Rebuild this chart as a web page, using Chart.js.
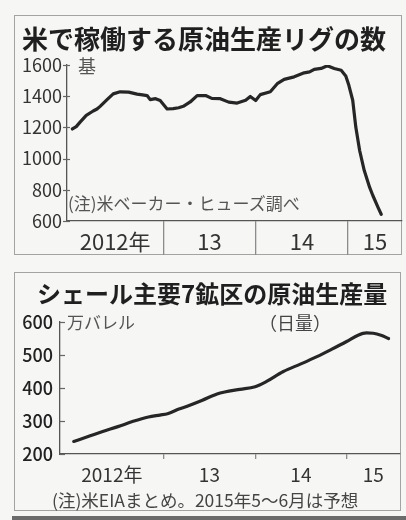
<!DOCTYPE html>
<html lang="ja">
<head>
<meta charset="UTF-8">
<title>米で稼働する原油生産リグの数</title>
<script src="https://cdn.jsdelivr.net/npm/chart.js"></script>
<style>
  html, body { margin: 0; padding: 0; }
  body {
    width: 406px; height: 520px; position: relative; overflow: hidden;
    background: #f6f6f4; color: #333;
    font-family: 'Noto Sans CJK JP', sans-serif;
  }
  .frame { position: absolute; box-sizing: border-box; border: 1.5px solid #a3a3a3; }
  .txt { position: absolute; white-space: nowrap; line-height: 1; }
  .title { font-weight: 700; color: #1f1f1f; }
  canvas { position: absolute; left: 0; }
  .rule { position: absolute; left: 12px; top: 516px; width: 394px; height: 4px; background: #6b6b6b; }
</style>
</head>
<body>
<div class="frame" style="left:14px;top:15px;width:388px;height:240px"></div>
<div class="frame" style="left:14px;top:272px;width:387px;height:239px"></div>
<div class="rule"></div>

<canvas id="rigChart" width="406" height="260" style="top:0"></canvas>
<canvas id="shaleChart" width="406" height="260" style="top:260px"></canvas>

<div class="txt title" style="left:22px;top:25px;font-size:26px">米で稼働する原油生産リグの数</div>
<div class="txt" style="left:78px;top:56px;font-size:18px;color:#555">基</div>
<div class="txt" style="left:68px;top:194px;font-size:17px;color:#555">(注)米ベーカー・ヒューズ調べ</div>

<div class="txt title" style="left:37px;top:281px;font-size:24px">シェール主要7鉱区の原油生産量</div>
<div class="txt" style="left:67px;top:313px;font-size:17px;color:#555">万バレル</div>
<div class="txt" style="left:259px;top:313px;font-size:18px;color:#444">（日量）</div>
<div class="txt" style="left:52px;top:491px;font-size:17.5px;color:#444">(注)米EIAまとめ。2015年5～6月は予想</div>

<script>
// months counted from Jan 2012 (0 = start of 2012)
const rigMonths = [0.2, 0.7, 1.2, 2.0, 2.9, 3.4, 3.8, 4.7, 5.5, 6.4, 7.5, 8.6, 9.3, 9.9, 10.3, 11.0, 11.6,
  12.5, 13.3, 14.0, 14.6, 15.5, 16.4, 17.5, 18.3, 19.4, 20.5, 21.6, 22.7, 23.3, 24.0, 24.6, 25.9,
  26.8, 27.7, 29.0, 30.3, 31.0, 31.6, 32.5, 33.3, 34.2, 35.1, 35.7, 36.1, 36.6, 37.0, 37.5, 38.1,
  38.8, 39.2, 39.9, 40.3];
const rigCounts = [1190, 1205, 1234, 1277, 1305, 1318, 1335, 1378, 1415, 1428, 1426, 1413, 1408, 1404, 1378, 1384, 1372,
  1318, 1320, 1326, 1335, 1363, 1404, 1404, 1386, 1384, 1362, 1356, 1374, 1398, 1372, 1410, 1428,
  1480, 1508, 1524, 1550, 1556, 1572, 1578, 1595, 1578, 1566, 1530, 1470, 1374, 1202, 1052, 923,
  815, 765, 686, 643];

const shaleMonths = [0.2, 2, 4, 6, 8, 10, 11.5, 12.5, 14, 15, 17, 19, 20, 22, 24, 25.5, 27.7,
  30, 32.1, 34, 36, 37.5, 38.6, 39.5, 40.5, 41.5];
const shaleOutput = [238, 252, 268, 283, 299, 312, 318, 322, 336, 344, 362, 382, 388, 396, 404, 420, 450,
  473, 495, 517, 541, 560, 567, 566, 560, 550];

const yearLabels = ['2012年', '13', '14', '15'];
const yearStarts = [12, 24, 36];

const FONT = "'Noto Sans CJK JP', sans-serif";
const LINE = '#262626';
const GRID = '#8c8c8c';

// short tick marks drawn across / inside the y axis line
const tickStubs = {
  id: 'tickStubs',
  afterDraw(chart, args, opts) {
    const ctx = chart.ctx;
    const y = chart.scales.y;
    ctx.save();
    ctx.strokeStyle = opts.color;
    ctx.lineWidth = 1.2;
    y.ticks.forEach(t => {
      const py = Math.round(y.getPixelForValue(t.value)) + 0.5;
      ctx.beginPath();
      ctx.moveTo(y.right - opts.out, py);
      ctx.lineTo(y.right + opts.in, py);
      ctx.stroke();
    });
    ctx.restore();
  }
};

// year boundaries get tick lines, cell centres get the labels
function yearTicks(scale) {
  const edges = [scale.min, ...yearStarts, scale.max];
  const ticks = [];
  for (let i = 0; i < yearLabels.length; i++) {
    ticks.push({ value: (edges[i] + edges[i + 1]) / 2 });
    if (i < yearStarts.length) ticks.push({ value: yearStarts[i] });
  }
  scale.ticks = ticks;
}

function makeChart(id, months, values, o) {
  return new Chart(document.getElementById(id), {
    type: 'line',
    data: {
      datasets: [{
        data: months.map((m, i) => ({ x: m, y: values[i] })),
        borderColor: LINE,
        borderWidth: 3.2,
        borderJoinStyle: 'round',
        borderCapStyle: 'round',
        pointRadius: 0,
        tension: o.tension,
        cubicInterpolationMode: o.tension ? 'monotone' : 'default'
      }]
    },
    options: {
      responsive: false,
      animation: false,
      layout: { padding: o.padding },
      plugins: {
        legend: { display: false },
        tooltip: { enabled: false },
        tickStubs: o.stubs
      },
      scales: {
        x: {
          type: 'linear',
          min: o.xMin,
          max: o.xMax,
          afterBuildTicks: yearTicks,
          afterFit: s => { s.height = o.xHeight; },
          border: { display: true, color: '#555', width: 1.3 },
          grid: {
            drawOnChartArea: false,
            drawTicks: true,
            tickLength: o.tickLength,
            lineWidth: 1.3,
            color: ctx => ctx.index % 2 === 1 ? GRID : 'rgba(0,0,0,0)'
          },
          ticks: {
            autoSkip: false,
            maxRotation: 0,
            padding: o.labelPad,
            color: '#333',
            font: { family: FONT, size: o.xFont },
            callback: (v, i) => i % 2 === 0 ? yearLabels[i / 2] : ''
          }
        },
        y: {
          min: o.yMin,
          max: o.yMax,
          afterFit: s => { s.width = o.yWidth; },
          border: { display: true, color: '#555', width: 1.3 },
          grid: { display: true, drawOnChartArea: false, drawTicks: false },
          ticks: {
            stepSize: o.yStep,
            padding: o.yPad,
            color: o.yColor,
            font: { family: FONT, size: 18, weight: o.yWeight },
            callback: v => String(v)
          }
        }
      }
    },
    plugins: [tickStubs]
  });
}

makeChart('rigChart', rigMonths, rigCounts, {
  tension: 0,
  padding: { top: 65, right: 4, bottom: 5, left: 0 },
  stubs: { out: 4, in: 3, color: '#666' },
  xMin: -0.5, xMax: 43.0, xHeight: 34, tickLength: 34, labelPad: -27, xFont: 22,
  yMin: 600, yMax: 1600, yStep: 200, yWidth: 67, yPad: 5, yColor: '#333', yWeight: 'normal'
});

makeChart('shaleChart', shaleMonths, shaleOutput, {
  tension: 0.4,
  padding: { top: 62, right: 6, bottom: 36, left: 0 },
  stubs: { out: 0, in: 5, color: '#666' },
  xMin: -1.6, xMax: 43.0, xHeight: 30, tickLength: 5, labelPad: 4, xFont: 19,
  yMin: 200, yMax: 600, yStep: 100, yWidth: 60, yPad: 7, yColor: '#222', yWeight: '500'
});
</script>
</body>
</html>
